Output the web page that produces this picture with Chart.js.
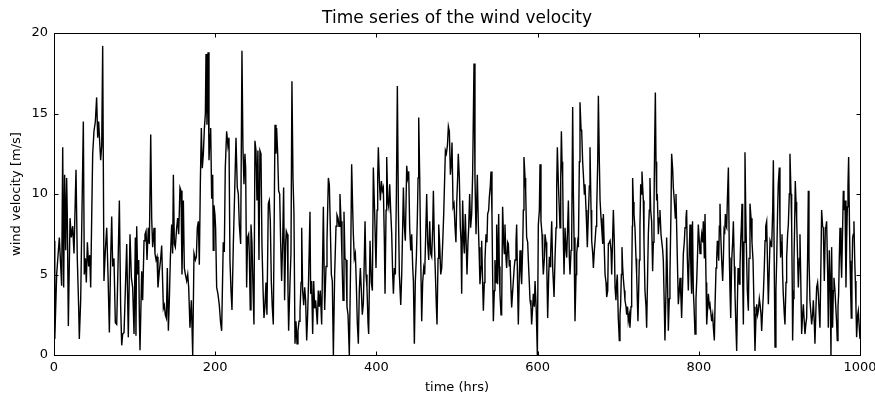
<!DOCTYPE html>
<html><head><meta charset="utf-8">
<script src="https://cdn.jsdelivr.net/npm/chart.js@4"></script>
<style>html,body{margin:0;padding:0;background:#fff}canvas{display:block}</style>
</head><body>
<canvas id="c" width="875" height="398"></canvas>
<script>
const hours = [
0,1,3.3,6.6,9.5,10.8,12,13.2,14.5,15.7,
16.5,17.8,19.9,21.5,23.2,24.8,27.3,28.9,30.6,31.4,
33.1,34.3,36.4,37.6,38.9,40.1,41.4,43,44.3,45.5,
46.7,48,49.6,51.3,52.9,54.2,55.4,56.7,57.9,59.2,
60.4,62,63.7,65.4,67,68.7,70.3,71.6,72.8,74.4,
76.1,77.8,79.4,81.1,82.7,84,85.2,86.9,88.5,90.2,
92.2,94.3,96,97.6,99.3,100.9,101.7,102.6,103.8,105.1,
105.9,106.7,108.8,110,111.7,112.9,114.2,115.4,117,118.3,
120,121.2,122.4,124.1,125.3,126.6,127.8,129,130.7,132.4,
133.6,134.8,135.7,136.9,138.1,139.4,140.6,141.9,143.1,144.3,
146,147.2,148.1,149.3,150.5,152.2,153.4,154.7,156.3,157.6,
158.8,160.5,161.7,163,164.6,165.9,167.1,168.7,170.4,172.1,
173.7,175.4,176.6,177.8,179.1,180.3,181.6,182.8,184,185.3,
186.5,187.8,188.6,189.8,191.1,192.3,193.6,194.4,195.6,196.9,
197.6,198.5,199.7,200.5,201.8,203.4,205.1,206.7,208,210,
211.3,212.5,214.2,215.8,217.1,218.3,219.6,220.8,222.5,224.1,
225.8,227.4,228.7,229.9,231.6,233.2,234.4,235.7,236.9,237.8,
239,240.2,241.5,242.3,243.5,244.4,245.6,246.9,248.1,249.3,
250.6,251.8,253,254.3,255.5,256.8,258,259.3,260.5,261.7,
263,264.2,265.9,267.1,268.4,269.6,270.8,272.1,273.3,274.2,
275.4,276.2,277.5,278.7,280,281.2,282.4,283.7,284.9,286.1,
287.4,288.2,289.5,290.3,291.1,292.8,294,295.2,296.5,297.7,
299,300.2,301.5,302.7,304,305.2,306.5,307.3,308.5,309.8,
311,312.2,313.5,314.7,316,317.6,318.4,319.7,320.9,322.2,
323.4,324.6,325.9,326.7,327.9,329.2,330.4,332.1,334.2,335.8,
337.5,338.7,340.4,341.6,342.8,344.1,345.3,346.6,348.2,349.9,
351.1,352.4,353.6,354.8,356.1,357.3,358.6,359.8,361,362.3,
363.5,364.8,366.4,368.1,369.3,370.6,371.4,372.6,373.9,375.1,
376.3,377.6,378.8,380.1,381.3,382.5,383.8,385,385.9,387.1,
388.3,389.6,390.4,392.1,393.7,395,396.2,397.9,399.5,400.8,
401.6,402.4,403.7,404.9,406.2,407.4,408.6,409.9,410.7,412,
412.8,414,415.3,416.5,417.7,419,420.2,421.1,422.3,423.5,
424.8,426,427.3,428.5,430.2,431.4,432.6,433.5,434.7,435.9,
437.6,438.8,440.1,441.3,442.6,443.8,445,445.9,447.1,448.3,
449.6,450.8,451.7,452.5,453.7,455,456.2,457.4,458.7,459.9,
461.2,462.4,463.6,464.9,466.1,467.4,468.6,469.9,470.7,471.9,
473.2,474.4,475.2,476.5,477.3,478.5,479.8,481,482.3,483.5,
484.7,485.6,486.8,488.1,489.3,490.5,491.8,493,493.8,495.1,
496.3,497.6,498.7,499.6,500.8,501.6,502.9,504.1,505,505.8,
507,508.3,509.1,510.3,511.6,512.4,513.6,514.5,515.7,516.9,
518.2,519.4,521.1,522.3,523.6,525.2,526.5,527.3,528.5,529.8,
530.6,531.8,532.7,533.9,534.7,536,537.2,538,539.3,540.1,
541.3,542.2,543.4,544.2,545.1,546.3,547.1,548.4,549.2,550.4,
551.7,552.5,553.3,554.6,555.4,556.6,557.9,558.7,559.5,560.8,
561.6,562.9,563.7,564.9,565.8,567,567.8,569.1,569.9,571.1,
572,573.2,574,575.3,576.1,577.3,578.2,579.4,580.2,581.5,
582.3,583.1,584.4,585.2,586.4,587.7,588.5,589.7,590.6,591.8,
592.6,593.9,594.7,596,596.8,598.2,599.7,600.9,602.2,603,
604.2,605.5,606.3,607.1,608.4,609.2,610.5,611.3,612.5,613.8,
614.6,615.4,616.2,617.5,618.7,619.6,620.4,621.6,622.9,623.7,
624.5,625.8,627,627.8,628.7,629.5,630.3,631.1,632,632.8,
634,635.3,636.1,637.3,638.2,639.4,640.2,641.5,642.3,643.5,
644.4,645.2,646.4,647.7,648.5,649.7,650.6,651.8,652.6,653.9,
654.7,655.9,656.8,658,658.8,660.1,660.9,661.7,663,664.2,
665,666.3,667.1,668.4,669.2,670.4,671.3,672.5,673.3,674.6,
675.4,676.6,677.5,678.7,679.5,680.8,681.6,682.8,683.7,684.9,
685.7,687,687.8,689,689.9,691.1,691.9,693.2,694,695.2,
696.1,697.2,698.1,698.9,700.1,701.4,702.2,703,703.9,704.7,
705.5,706.3,707.6,708.4,709.7,710.5,711.7,712.5,713.8,714.6,
715.9,716.7,717.5,717.9,718.8,719.6,720.8,722.1,722.9,723.7,
724.5,725.4,726.2,727,727.9,728.7,729.5,730.3,731.2,732,
733.2,734.5,735.3,736.5,737.4,738.6,739.4,740.3,741.5,742.7,
743.6,744.4,745.2,746.1,746.9,747.7,748.5,749.8,751,751.8,
753.1,753.9,755.2,756,757.2,758,759.3,760.1,761.4,762.2,
763.4,764.2,765.5,766.3,767.6,768.4,769.6,770.9,771.7,772.5,
773.8,774.6,775.8,776.7,777.9,778.7,780,780.8,782,782.9,
784.1,784.9,785.8,787,788.2,789.1,790.3,791.1,792.2,793.2,
794.1,795.3,796.5,797.4,798.6,799.4,800.7,801.5,802.7,803.6,
804.8,805.6,806.9,807.7,809,809.8,811,811.9,813.1,813.9,
815.2,816,817.2,818.1,819.3,820.1,821.4,822.2,823,823.8,
824.7,825.5,826.3,827.2,828.4,829.6,830.5,831.3,832.1,833,
833.8,834.6,835.4,836.7,837.9,838.7,839.6,840.8,842,842.9,
844.1,844.9,846.2,847,847.8,848.7,849.5,850.3,851.1,852,
852.8,853.6,854.4,855.3,856.1,857.3,858.2,859.4,860.2,861.5,
862.3,863.5,864.8,866,867.3,868.5,869.7,871,871.8,873,
873.9,875.1,876,877.2,878,879.3,880.1,881.3,882.2,883,
884.2,885.5,886.3,887.5,888.4,889.6,890.4,891.7,892.5,893.7,
894.6,895.7,896.6,897.8,898.6,899.9,900.7,901.5,902.4,903.2,
904,904.8,906.1,906.9,908.2,909,910.2,911.1,912.3,913.1,
914.4,915.2,916,916.4,917.3,918.1,918.9,919.7,920.6,921.4,
922.6,923.5,924.7,925.5,926.4,927.6,928.8,929.7,930.9,931.7,
933,933.8,935,935.9,936.7,937.9,939.2,940,941.2,942.1,
943.3,944.1,945.4,946.2,947.4,948.3,949.5,950.3,951.6,952.4,
953.6,954.5,955.7,957,957.8,958.6,959.9,960.7,961.9,962.8,
964,964.8,966,966.9,967.7,968.9,969.8,971,971.8,972.7,
973.5,974.3,975.2,976.4,977.2,978.5,979.3,980.1,981.4,982.6,
983.4,984.3,985.1,985.9,986.7,987.6,988.4,989.2,990,990.9,
991.7,992.5,993.4,994.2,995,995.8,997.1,997.9,999.1,1000
];
const velocity = [
7.1,1.0,5.0,7.3,4.3,12.9,4.2,11.2,6.5,11.0,
8.7,1.8,8.5,7.3,8.0,6.3,11.5,6.0,3.0,1.0,
3.4,7.5,14.5,5.0,6.0,4.5,7.0,5.5,6.2,4.2,
8.3,12.5,13.9,14.5,16.0,13.5,14.5,13.2,12.1,13.0,
19.2,4.6,6.5,7.9,5.0,1.4,6.0,8.6,5.5,6.0,
2.0,1.9,5.5,9.6,3.0,0.6,1.3,1.4,4.0,6.9,
1.1,7.5,4.8,4.2,1.3,7.3,1.2,8.0,5.0,5.9,
2.3,0.3,5.2,3.4,7.1,7.5,7.7,5.9,7.9,6.9,
13.7,8.5,6.7,7.9,6.3,5.9,6.1,4.2,5.2,6.0,
6.8,4.5,2.9,3.1,2.5,2.3,5.4,1.5,3.4,5.9,
8.1,6.3,11.2,6.9,6.7,7.9,8.5,7.5,10.4,10.2,
5.0,9.6,5.4,5.0,4.6,5.0,4.2,1.7,3.4,0,
6.3,5.9,6.1,7.9,8.3,5.6,10.8,14.1,11.6,12.5,
14.0,15.0,18.7,14.3,18.8,12.1,13.7,14.1,9.7,11.2,
6.5,9.3,8.7,7.9,4.2,3.8,3.1,2.0,1.5,7.0,
6.4,11.6,13.9,13.0,13.5,5.9,4.0,2.8,6.9,10.0,
13.5,10.4,10.0,8.1,6.9,18.9,12.9,10.6,12.5,11.6,
4.2,7.3,7.5,6.3,2.8,8.1,7.0,4.2,1.9,13.3,
12.7,9.6,12.7,5.9,12.7,12.5,6.9,4.2,2.3,3.0,
4.5,2.5,9.4,9.6,8.3,4.6,3.0,1.9,9.0,14.3,
12.5,14.1,12.5,10.2,10.0,7.0,4.6,7.0,10.4,3.4,
7.0,7.7,7.5,4.0,1.5,4.5,6.3,17.0,11.0,8.8,
0.7,2.1,0.7,1.5,2.1,2.7,4.5,7.9,4.0,3.1,
4.2,3.4,0.9,2.5,5.0,8.9,3.8,4.6,1.3,4.6,
2.9,3.4,2.5,1.9,4.0,3.0,4.0,1.9,9.2,2.8,
5.5,7.1,11.0,10.6,8.0,5.0,4.6,0,5.0,8.0,
8.7,8.5,8.0,10.0,8.3,6.0,3.4,8.9,6.0,5.9,
3.0,2.5,0,6.0,11.85,9.0,7.5,6.0,6.3,4.4,
2.0,0.7,4.0,5.4,4.0,2.5,3.2,6.0,8.3,5.0,
4.2,2.0,1.3,7.1,4.5,4.0,11.65,8.7,5.4,9.0,
11.0,12.9,10.8,9.6,10.8,10.2,10.4,7.0,3.8,9.0,
12.3,9.6,9.2,10.6,9.0,7.5,5.0,3.8,5.4,5.0,
10.0,16.7,9.0,5.0,3.1,5.0,8.0,10.4,8.0,7.1,
11.75,11.0,11.4,7.9,6.5,7.5,5.5,4.6,0.7,4.6,
6.1,8.5,11.0,14.75,11.2,6.0,2.1,4.5,5.4,5.0,
7.5,10.0,7.0,5.9,8.3,6.3,6.1,8.0,10.2,7.0,
5.0,3.0,1.9,6.0,8.1,6.9,5.0,5.4,7.0,8.75,
11.0,12.7,12.5,13.0,14.2,13.9,11.2,12.0,13.2,9.2,
9.4,7.9,7.0,9.4,11.0,12.5,11.0,8.0,7.1,3.8,
9.6,7.0,6.3,8.75,6.5,5.0,7.0,7.9,10.0,7.9,
8.75,11.2,18.1,11.0,7.5,11.2,8.0,6.7,4.4,5.5,
7.1,4.5,2.75,4.5,5.9,7.5,7.0,8.75,9.0,9.8,
10.5,11.4,8.75,5.0,2.1,4.0,5.9,4.5,8.1,4.4,
8.75,5.5,3.8,2.5,2.75,9.2,7.0,6.3,8.1,6.0,
5.4,7.0,6.9,5.5,5.9,4.0,2.95,4.0,4.6,5.5,
5.9,7.0,8.1,4.0,1.9,5.0,6.5,5.0,4.4,6.7,
9.0,12.3,11.0,10.2,7.3,7.0,5.9,4.5,3.4,3.0,
1.9,3.0,3.8,3.0,4.6,3.0,0,8.1,9.0,11.85,
8.3,7.5,6.0,5.0,6.0,7.5,7.0,5.9,2.3,5.0,
6.1,5.5,6.3,8.3,5.4,4.5,3.6,6.0,7.9,10.5,
12.9,10.6,9.0,7.9,11.0,13.9,12.0,11.0,7.0,5.0,
7.9,6.5,6.05,8.0,9.6,6.0,5.0,6.5,7.3,15.4,
10.0,7.3,2.1,5.0,6.3,7.0,6.7,12.0,15.7,14.0,
13.9,12.0,11.2,10.0,10.6,9.0,7.9,6.7,8.75,10.5,
12.9,9.0,7.1,6.3,5.4,6.5,7.1,8.0,9.0,12.0,
16.1,12.0,9.6,8.5,7.9,6.9,8.75,6.5,5.0,4.5,
3.6,4.0,6.9,7.0,7.1,6.5,5.0,7.5,9.0,7.0,
4.2,3.4,4.5,5.0,2.3,0.9,2.5,3.1,5.0,6.7,
5.5,4.8,4.0,3.4,3.0,2.5,3.0,2.1,2.5,1.7,
3.0,4.6,8.0,11.0,9.5,8.75,7.9,6.0,5.0,3.5,
2.1,4.0,5.9,8.0,10.6,10.0,11.4,10.5,9.6,7.0,
4.0,3.0,1.7,5.0,7.5,9.0,11.0,9.0,8.3,5.2,
7.0,9.0,13.0,16.3,12.0,9.6,10.0,7.5,8.5,9.0,
7.5,7.1,6.5,5.85,3.0,0.9,4.0,7.3,4.0,1.5,
3.5,5.0,9.0,12.5,11.5,10.4,9.6,8.5,10.0,8.0,
5.0,3.15,4.0,4.8,3.5,2.3,4.5,6.3,7.0,7.9,
8.5,9.0,6.0,4.0,6.5,8.1,5.0,3.8,8.3,4.0,
3.0,1.3,3.5,4.6,6.5,8.1,7.0,6.3,7.0,7.5,
7.0,8.3,6.0,8.75,4.5,1.9,3.0,3.8,3.0,3.15,
2.5,2.1,2.5,1.7,0.9,3.0,5.4,6.0,7.1,6.5,
5.85,8.0,9.4,7.5,5.85,4.6,6.0,7.7,7.5,8.75,
8.0,7.9,9.5,11.65,6.05,4.0,2.3,5.85,7.0,8.3,
5.5,3.8,1.5,0.25,3.0,5.4,5.0,4.4,5.5,7.1,
8.0,9.4,5.0,1.9,7.0,12.6,9.0,5.85,4.0,2.75,
6.0,9.4,8.5,7.0,5.85,3.0,0.25,2.5,3.15,2.5,
2.75,3.5,3.15,2.5,1.5,3.0,3.8,5.5,7.1,8.0,
8.3,5.0,3.15,5.5,7.1,6.9,6.7,9.0,12.1,5.0,
0.5,4.0,5.85,9.0,10.6,11.65,8.0,6.05,7.0,7.5,
5.0,3.8,2.5,1.9,4.5,6.05,7.5,8.1,10.0,12.5,
10.0,8.1,4.0,0.9,3.5,5.85,8.0,10.8,9.5,8.5,
6.0,4.2,6.0,7.5,5.0,1.3,2.5,3.15,2.0,1.3,
2.0,2.3,6.0,10.2,6.0,3.4,2.5,1.9,2.5,3.4,
2.0,0.7,3.0,4.2,4.5,3.8,2.5,1.7,6.0,9.0,
8.0,7.9,4.6,7.9,8.0,8.3,5.0,1.7,6.5,5.0,
0,6.7,1.7,4.0,4.8,4.0,3.15,2.0,0.9,3.0,
3.8,6.0,7.9,6.0,4.8,8.0,10.2,9.0,9.6,4.2,
7.0,9.2,10.5,12.3,9.0,5.85,4.0,2.3,5.0,7.3,
7.5,8.3,6.0,4.6,3.0,1.1,2.5,2.75,1.7,1.0
];
const xTicks = [0, 200, 400, 600, 800, 1000];
const yTicks = [0, 5, 10, 15, 20];
const chartTitle = 'Time series of the wind velocity';
const xLabel = 'time (hrs)';
const yLabel = 'wind velocity [m/s]';

const FONT = "'DejaVu Sans', sans-serif";
Chart.defaults.font.family = FONT;
Chart.defaults.font.size = 13;
Chart.defaults.color = '#000';

const frame = {
  id: 'frame',
  afterDatasetsDraw(chart) {
    const { ctx, chartArea: a, scales: { x, y } } = chart;
    ctx.save();
    ctx.strokeStyle = '#000';
    ctx.lineWidth = 1;
    const L = Math.round(a.left) + 0.5, R = Math.round(a.right) + 0.5;
    const T = Math.round(a.top) + 0.5, B = Math.round(a.bottom) + 0.5;
    ctx.strokeRect(L, T, R - L, B - T);
    ctx.beginPath();
    xTicks.forEach(v => {
      const px = Math.round(x.getPixelForValue(v)) + 0.5;
      ctx.moveTo(px, B); ctx.lineTo(px, B - 4);
      ctx.moveTo(px, T); ctx.lineTo(px, T + 4);
    });
    yTicks.forEach(v => {
      const py = Math.round(y.getPixelForValue(v)) + 0.5;
      ctx.moveTo(L, py); ctx.lineTo(L + 4, py);
      ctx.moveTo(R, py); ctx.lineTo(R - 4, py);
    });
    ctx.stroke();

    ctx.fillStyle = '#000';
    ctx.textAlign = 'center';
    ctx.textBaseline = 'middle';
    const cx = (a.left + a.right) / 2;
    ctx.font = '17px ' + FONT;
    ctx.fillText(chartTitle, cx, 19);
    ctx.font = '13px ' + FONT;
    ctx.fillText(xLabel, cx, 388);
    ctx.translate(17, (a.top + a.bottom) / 2);
    ctx.rotate(-Math.PI / 2);
    ctx.fillText(yLabel, 0, 0);
    ctx.restore();
  }
};

new Chart(document.getElementById('c'), {
  type: 'line',
  data: {
    datasets: [{
      data: hours.map((h, i) => ({ x: h, y: velocity[i] })),
      borderColor: '#000',
      borderWidth: 1.4,
      pointRadius: 0,
      tension: 0,
      fill: false
    }]
  },
  options: {
    responsive: false,
    animation: false,
    layout: { padding: { top: 33, right: 15, bottom: 0, left: 0 } },
    plugins: {
      legend: { display: false },
      tooltip: { enabled: false },
      title: { display: false }
    },
    scales: {
      x: {
        type: 'linear', min: 0, max: 1000,
        afterBuildTicks: s => { s.ticks = xTicks.map(v => ({ value: v })); },
        afterFit: s => { s.height = 43; s.paddingLeft = 0; s.paddingRight = 0; },
        grid: { display: false, drawTicks: false },
        border: { display: false },
        ticks: { padding: 5, maxRotation: 0, autoSkip: false, color: '#000', callback: v => String(v) }
      },
      y: {
        min: 0, max: 20,
        afterBuildTicks: s => { s.ticks = yTicks.map(v => ({ value: v })); },
        afterFit: s => { s.width = 54; s.paddingTop = 0; s.paddingBottom = 0; },
        grid: { display: false, drawTicks: false },
        border: { display: false },
        ticks: { padding: 6, color: '#000', callback: v => String(v) }
      }
    }
  },
  plugins: [frame]
});
</script>
</body></html>
